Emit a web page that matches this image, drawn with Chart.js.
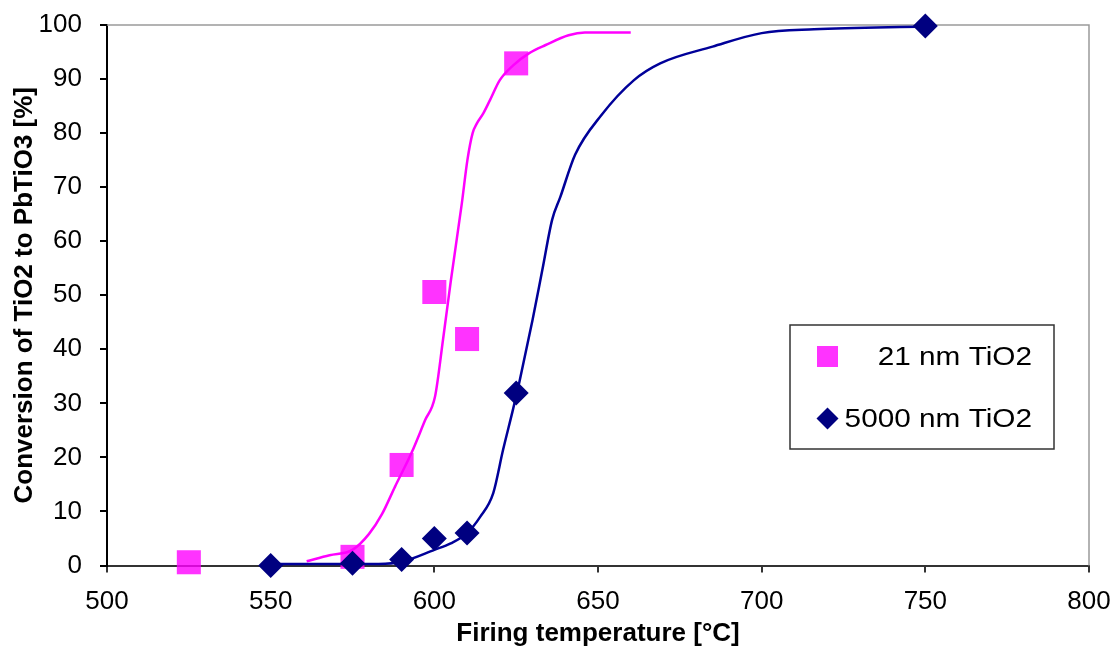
<!DOCTYPE html>
<html>
<head>
<meta charset="utf-8">
<script src="https://cdn.jsdelivr.net/npm/chart.js@4"></script>
<style>
  html, body { margin: 0; padding: 0; background: #fff; }
  #wrap { width: 1120px; height: 657px; position: relative; }
</style>
</head>
<body>
<div id="wrap"><canvas id="c" width="1120" height="657"></canvas></div>
<script>
// ---- Data ----
const xTicks = [500, 550, 600, 650, 700, 750, 800];
const yTicks = [0, 10, 20, 30, 40, 50, 60, 70, 80, 90, 100];

const seriesNames = ['21 nm TiO2', '5000 nm TiO2'];

// measured points
const temps21 = [525, 575, 590, 600, 610, 625];
const conv21  = [0.6, 1.6, 18.6, 50.6, 41.9, 92.9];

const temps5000 = [550, 575, 590, 600, 610, 625, 750];
const conv5000  = [0.0, 0.4, 1.1, 5.0, 6.0, 31.9, 99.8];

// fitted curves (traced)
const fitT21 = [561, 568, 575, 580, 584, 588, 593, 597.2, 600.2, 602.7, 605, 608.4, 610.1, 611.7, 613, 615, 617, 620, 624, 629, 634, 641, 646, 660];
const fitC21 = [0.8, 1.9, 2.9, 5.8, 9.5, 14.6, 20.8, 26.9, 31.2, 42.0, 52.5, 67.0, 75.0, 80.0, 81.8, 83.7, 86.1, 89.8, 92.5, 94.8, 96.3, 98.1, 98.6, 98.6];

const fitT5000 = [550, 583, 590, 600, 605, 610, 614, 618, 621, 624, 626, 630, 633, 636, 638.5, 643, 651, 661, 669, 685, 700, 716, 750];
const fitC5000 = [0.3, 0.3, 0.7, 2.9, 4.1, 6.0, 9.0, 13.4, 21.4, 28.8, 34.0, 45.4, 54.7, 64.0, 68.2, 76.0, 83.3, 89.8, 92.9, 96.0, 98.5, 99.2, 99.7];

const xy = (xs, ys) => xs.map((x, i) => ({ x: x, y: ys[i] }));

const FONT = "'Liberation Sans', Arial, Helvetica, sans-serif";

// frame (top/right border) plugin
const framePlugin = {
  id: 'frame',
  beforeDatasetsDraw(chart) {
    const { ctx, chartArea: a } = chart;
    ctx.save();
    ctx.strokeStyle = '#9a9a9a';
    ctx.lineWidth = 1.5;
    ctx.beginPath();
    ctx.moveTo(a.left, a.top);
    ctx.lineTo(a.right, a.top);
    ctx.lineTo(a.right, a.bottom);
    ctx.stroke();
    ctx.restore();
  }
};

// legend drawn inside chart area
const boxLegend = {
  id: 'boxLegend',
  afterDatasetsDraw(chart) {
    const { ctx, chartArea: a } = chart;
    const left = a.right - 299, top = a.top + 300, w = 264, h = 124;
    ctx.save();
    ctx.fillStyle = '#fff';
    ctx.fillRect(left, top, w, h);
    ctx.strokeStyle = '#333';
    ctx.lineWidth = 1.5;
    ctx.strokeRect(left, top, w, h);

    const ds21 = chart.data.datasets[1];
    const ds5k = chart.data.datasets[3];
    ctx.fillStyle = ds21.backgroundColor;
    ctx.fillRect(left + 27, top + 21, 21, 21);
    ctx.fillStyle = ds5k.backgroundColor;
    const cx = left + 37.5, cy = top + 93.5, r = 11;
    ctx.beginPath();
    ctx.moveTo(cx - r, cy); ctx.lineTo(cx, cy - r); ctx.lineTo(cx + r, cy); ctx.lineTo(cx, cy + r);
    ctx.closePath(); ctx.fill();

    ctx.fillStyle = '#000';
    ctx.font = '25px ' + FONT;
    ctx.textBaseline = 'alphabetic';
    ctx.textAlign = 'right';
    const sx = 1.19;
    [[seriesNames[0], 40], [seriesNames[1], 102]].forEach(([t, dy]) => {
      ctx.save();
      ctx.translate(left + 242, top + dy);
      ctx.scale(sx, 1);
      ctx.fillText(t, 0, 0);
      ctx.restore();
    });
    ctx.restore();
  }
};

Chart.defaults.color = '#000';
Chart.defaults.font.family = FONT;

new Chart(document.getElementById('c'), {
  type: 'scatter',
  data: {
    datasets: [
      {
        label: 'fit 21',
        data: xy(fitT21, fitC21),
        showLine: true,
        borderColor: '#ff00ff',
        borderWidth: 2.5,
        pointRadius: 0,
        cubicInterpolationMode: 'monotone',
        clip: false,
        order: 3
      },
      {
        label: seriesNames[0],
        data: xy(temps21, conv21),
        pointStyle: 'rect',
        pointRadius: 17,
        pointHoverRadius: 17,
        backgroundColor: 'rgba(255,0,255,0.8)',
        borderWidth: 0,
        showLine: false,
        clip: false,
        order: 2
      },
      {
        label: 'fit 5000',
        data: xy(fitT5000, fitC5000),
        showLine: true,
        borderColor: '#000099',
        borderWidth: 2.5,
        pointRadius: 0,
        cubicInterpolationMode: 'monotone',
        clip: false,
        order: 1
      },
      {
        label: seriesNames[1],
        data: xy(temps5000, conv5000),
        pointStyle: 'rectRot',
        pointRadius: 12.5,
        pointHoverRadius: 12.5,
        backgroundColor: '#000080',
        borderWidth: 0,
        showLine: false,
        clip: false,
        order: 0
      }
    ]
  },
  options: {
    responsive: false,
    animation: false,
    events: [],
    layout: { padding: { left: 0, right: 31, top: 25, bottom: 0 } },
    plugins: {
      legend: { display: false },
      tooltip: { enabled: false }
    },
    scales: {
      x: {
        type: 'linear',
        min: 500, max: 800,
        afterBuildTicks: (s) => { s.ticks = xTicks.map(v => ({ value: v })); },
        afterFit: (s) => { s.height = 91.5; s.paddingLeft = 0; s.paddingRight = 0; },
        ticks: { font: { size: 26 }, color: '#000', padding: 14, maxRotation: 0 },
        grid: { drawOnChartArea: false, drawTicks: true, tickLength: 7, color: '#333', lineWidth: 2 },
        border: { display: true, color: '#333', width: 2 },
        title: { display: true, text: 'Firing temperature [°C]', font: { size: 26, weight: 'bold' }, color: '#000', padding: { top: 0, bottom: 8 } }
      },
      y: {
        type: 'linear',
        min: 0, max: 100,
        afterBuildTicks: (s) => { s.ticks = yTicks.map(v => ({ value: v })); },
        afterFit: (s) => { s.width = 107; s.paddingTop = 0; s.paddingBottom = 0; },
        ticks: { font: { size: 26 }, color: '#000', padding: 18 },
        grid: { drawOnChartArea: false, drawTicks: true, tickLength: 7, color: '#000', lineWidth: 2 },
        border: { display: true, color: '#000', width: 2 },
        title: { display: true, text: 'Conversion of TiO2 to PbTiO3 [%]', font: { size: 26, weight: 'bold' }, color: '#000', padding: { top: 9, bottom: 0 } }
      }
    }
  },
  plugins: [framePlugin, boxLegend]
});
</script>
</body>
</html>
